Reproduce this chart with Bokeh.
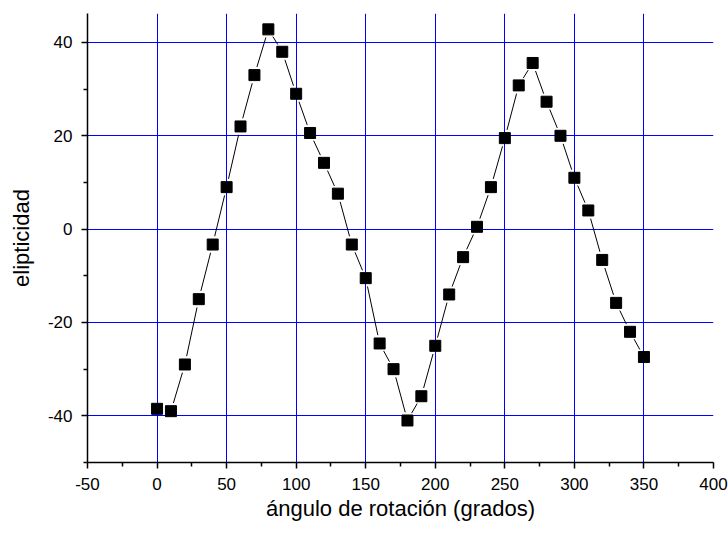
import numpy as np
from bokeh.plotting import figure
from bokeh.models import FixedTicker, Range1d
from bokeh.embed import file_html
from bokeh.resources import INLINE

angles = [0, 10, 20, 30, 40, 50, 60, 70, 80, 90, 100, 110, 120, 130, 140, 150, 160, 170,
          180, 190, 200, 210, 220, 230, 240, 250, 260, 270, 280, 290, 300, 310, 320, 330, 340, 350]
ellipticity = [-38.5, -39.0, -29.0, -15.0, -3.3, 9.0, 22.0, 33.0, 42.8, 38.0, 29.0, 20.6, 14.2, 7.6,
               -3.3, -10.5, -24.5, -30.0, -41.0, -35.8, -25.0, -14.0, -6.0, 0.5, 9.0, 19.5, 30.8,
               35.6, 27.3, 20.0, 11.0, 4.0, -6.6, -15.8, -22.0, -27.4]
x_ticks = [-50, 0, 50, 100, 150, 200, 250, 300, 350, 400]
x_minor = [-25, 25, 75, 125, 175, 225, 275, 325, 375]
y_ticks = [-40, -20, 0, 20, 40]
y_minor = [-50, -30, -10, 10, 30]
x_grid = [0, 50, 100, 150, 200, 250, 300, 350]

XMIN, XMAX, YMIN, YMAX = -50, 400, -50, 46.2
W, H = 728, 533
ML, MR, MT, MB = 87, 15, 13, 71
FW, FH = W - ML - MR, H - MT - MB

p = figure(width=W, height=H, output_backend="svg", toolbar_location=None,
           x_range=Range1d(XMIN, XMAX), y_range=Range1d(YMIN, YMAX),
           min_border_left=ML, min_border_right=MR, min_border_top=MT, min_border_bottom=MB)
p.outline_line_color = None
p.background_fill_color = "white"
p.border_fill_color = "white"

for ax, ticks, minor in ((p.xaxis[0], x_ticks, x_minor), (p.yaxis[0], y_ticks, y_minor)):
    ax.ticker = FixedTicker(ticks=ticks, minor_ticks=minor)
    ax.major_label_overrides = {t: str(t) for t in ticks}
    ax.axis_line_width = 1.5
    ax.axis_line_color = "black"
    ax.major_tick_line_width = 1.5
    ax.minor_tick_line_width = 1.5
    ax.major_tick_in = 0
    ax.major_tick_out = 6
    ax.minor_tick_in = 0
    ax.minor_tick_out = 4
    ax.major_label_text_font = "Liberation Sans"
    ax.major_label_text_font_size = "17px"
    ax.major_label_text_color = "black"
    ax.axis_label_text_font = "Liberation Sans"
    ax.axis_label_text_font_size = "22px"
    ax.axis_label_text_font_style = "normal"
    ax.axis_label_text_color = "black"

p.xaxis[0].axis_label = "ángulo de rotación (grados)"
p.yaxis[0].axis_label = "elipticidad"
p.xaxis[0].major_label_standoff = 9
p.yaxis[0].major_label_standoff = 9
p.xaxis[0].axis_label_standoff = 3
p.yaxis[0].axis_label_standoff = 11

p.xgrid[0].ticker = FixedTicker(ticks=x_grid)
p.ygrid[0].ticker = FixedTicker(ticks=y_ticks)
for g in (p.xgrid[0], p.ygrid[0]):
    g.grid_line_color = "#0000ff"
    g.grid_line_width = 1
    g.grid_line_alpha = 1.0

# connecting line segments that stop short of the markers
x = np.array(angles, dtype=float)
y = np.array(ellipticity, dtype=float)
sx = FW / (XMAX - XMIN)
sy = FH / (YMAX - YMIN)
gap = 8.5
x0s, y0s, x1s, y1s = [], [], [], []
for i in range(len(x) - 1):
    dxp = (x[i + 1] - x[i]) * sx
    dyp = (y[i + 1] - y[i]) * sy
    L = np.hypot(dxp, dyp)
    if L <= 2 * gap:
        continue
    ux, uy = dxp / L, dyp / L
    x0s.append(x[i] + ux * gap / sx)
    y0s.append(y[i] + uy * gap / sy)
    x1s.append(x[i + 1] - ux * gap / sx)
    y1s.append(y[i + 1] - uy * gap / sy)
p.segment(x0s, y0s, x1s, y1s, line_color="black", line_width=1)

p.scatter(angles, ellipticity, marker="square", size=11, fill_color="black", line_color="black")

open("out.html", "w").write(file_html(p, INLINE))
